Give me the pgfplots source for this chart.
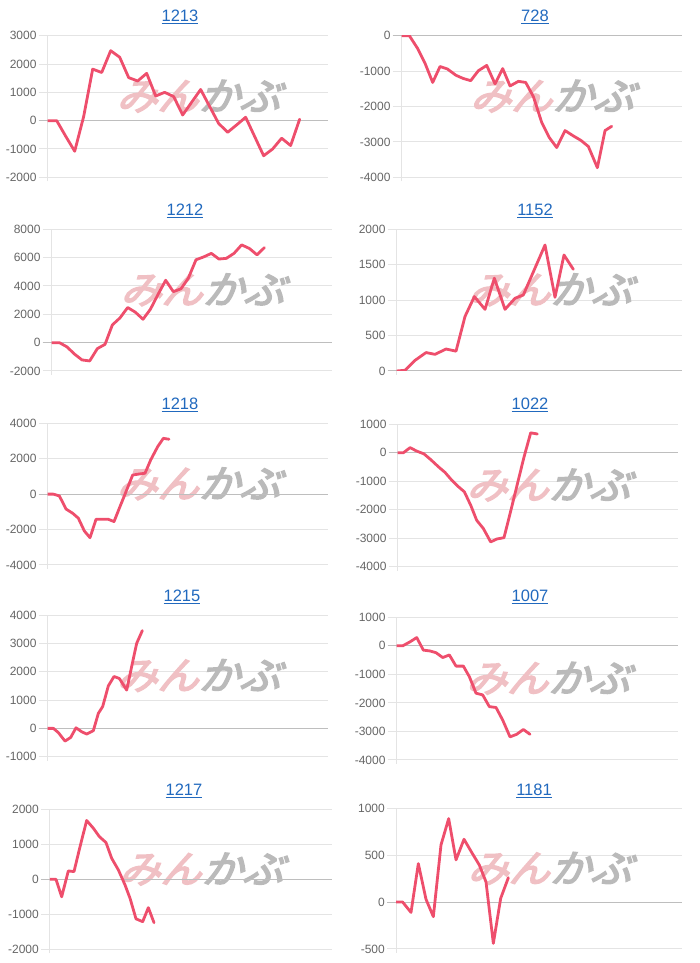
\documentclass[border=0pt]{standalone}
\usepackage{pgfplots}
\pgfplotsset{compat=1.18}
\usepackage{fontspec}
\setmainfont{Liberation Sans}
\newfontfamily\wmfont[FakeBold=4,FakeSlant=0.3]{Noto Sans CJK JP}
\definecolor{linec}{RGB}{238,78,108}
\definecolor{gridc}{RGB}{228,228,228}
\definecolor{zeroc}{RGB}{190,190,190}
\definecolor{labc}{RGB}{102,102,102}
\definecolor{titlec}{RGB}{33,105,190}
\definecolor{wmpink}{RGB}{240,192,196}
\definecolor{wmgray}{RGB}{186,186,186}
\pgfplotsset{mini/.style={
  scale only axis, anchor=south west,
  axis line style={draw=none},
  xtick=\empty, ytick pos=left,
  tick align=outside, major tick length=9pt,
  ymajorgrids, grid style={gridc, line width=1pt},
  ytick style={gridc, line width=1pt},
  yticklabel style={font=\fontsize{12}{14}\selectfont, text=labc, inner sep=0pt, xshift=-2pt},
  /pgf/number format/assume math mode=true,
  /pgf/number format/1000 sep={},
  scaled y ticks=false,
  clip mode=individual
}, ln/.style={color=linec, line width=2.8pt, line join=round, line cap=round, mark=none}}
\newcommand{\wm}{\node[font=\wmfont\fontsize{38}{40}\selectfont, inner sep=0pt, xscale=1.08] at (rel axis cs:0.537,0.573) {\textcolor{wmpink}{みん}\textcolor{wmgray}{かぶ}};}
\newcommand{\zline}{\draw[zeroc,line width=1pt] ({rel axis cs:0,0}|-{axis cs:0,0}) ++(-9pt,0pt) -- ({rel axis cs:1,0}|-{axis cs:0,0});}
\newcommand{\lline}{\draw[gridc,line width=1pt] (rel axis cs:0,0) ++(0pt,-4pt) -- (rel axis cs:0,1);}
\newcommand{\ttl}[3]{\node[anchor=base, font=\fontsize{16.5}{18}\selectfont, text=titlec, inner sep=0pt] at (#1pt,#2pt) {\underline{#3}};}
\begin{document}
\begin{tikzpicture}
\useasboundingbox (0pt,0pt) rectangle (700pt,963pt);
% titles
\ttl{180}{941}{1213}
\ttl{535}{941}{728}
\ttl{185}{747}{1212}
\ttl{535}{747}{1152}
\ttl{180}{553}{1218}
\ttl{530}{553}{1022}
\ttl{182}{361}{1215}
\ttl{530}{361}{1007}
\ttl{184}{167}{1217}
\ttl{534}{167}{1181}

% 1213
\begin{axis}[mini, at={(47.7pt,785.7pt)}, width=280.6pt, height=141.6pt,
  xmin=143, xmax=985, ymin=-2000, ymax=3000, ytick={-2000,-1000,0,1000,2000,3000}]
\wm \lline \zline
\addplot[ln] coordinates {(143,0)(170,0)(197,-550)(224,-1080)(251,150)(278,1820)(305,1700)(332,2470)(359,2240)(386,1520)(413,1400)(440,1670)(467,870)(494,1000)(521,850)(548,200)(575,650)(602,1100)(629,500)(656,-100)(683,-410)(710,-150)(737,120)(764,-560)(791,-1240)(818,-1000)(845,-620)(872,-880)(899,50)};
\end{axis}

% 728
\begin{axis}[mini, at={(401.7pt,785.7pt)}, width=280pt, height=141.6pt,
  xmin=155, xmax=995, ymin=-4000, ymax=0, ytick={-4000,-3000,-2000,-1000,0}]
\wm \lline \zline
\addplot[ln] coordinates {(155,0)(178,0)(202,-350)(225,-780)(248,-1320)(270,-870)(292,-940)(318,-1120)(340,-1210)(362,-1270)(385,-990)(410,-840)(435,-1360)(458,-930)(480,-1420)(505,-1290)(527,-1320)(550,-1720)(575,-2450)(598,-2880)(620,-3160)(645,-2680)(668,-2820)(693,-2960)(715,-3130)(742,-3730)(765,-2680)(785,-2560)};
\end{axis}

% 1212
\begin{axis}[mini, at={(51.7pt,592pt)}, width=280.6pt, height=141.7pt,
  xmin=155, xmax=997, ymin=-2000, ymax=8000, ytick={-2000,0,2000,4000,6000,8000}]
\wm \lline \zline
\addplot[ln] coordinates {(155,0)(178,0)(201,-300)(223,-800)(246,-1220)(269,-1290)(292,-420)(315,-120)(337,1250)(360,1750)(383,2480)(406,2150)(429,1650)(451,2350)(474,3400)(497,4400)(520,3600)(543,3800)(565,4550)(588,5850)(611,6050)(634,6300)(657,5900)(679,5950)(702,6300)(725,6900)(748,6650)(771,6200)(793,6700)};
\end{axis}

% 1152
\begin{axis}[mini, at={(396.7pt,592pt)}, width=285.6pt, height=141.7pt,
  xmin=140, xmax=997, ymin=0, ymax=2000, ytick={0,500,1000,1500,2000}]
\wm \lline \zline
\addplot[ln] coordinates {(140,0)(165,10)(195,150)(228,260)(255,235)(288,310)(318,280)(345,770)(373,1050)(405,870)(433,1310)(465,870)(495,1026)(520,1073)(552,1420)(585,1778)(615,1040)(642,1637)(670,1435)};
\end{axis}

% 1218
\begin{axis}[mini, at={(47.7pt,398pt)}, width=280.6pt, height=141.7pt,
  xmin=143, xmax=985, ymin=-4000, ymax=4000, ytick={-4000,-2000,0,2000,4000}]
\wm \lline \zline
\addplot[ln] coordinates {(143,0)(160,0)(178,-100)(198,-840)(218,-1080)(235,-1360)(253,-2080)(270,-2460)(288,-1420)(308,-1420)(325,-1420)(342,-1550)(360,-700)(378,140)(398,1080)(415,1130)(435,1180)(452,1930)(473,2680)(490,3150)(507,3100)};
\end{axis}

% 1022
\begin{axis}[mini, at={(397.7pt,396.3pt)}, width=280.6pt, height=142.4pt,
  xmin=143, xmax=985, ymin=-4000, ymax=1000, ytick={-4000,-3000,-2000,-1000,0,1000}]
\wm \lline \zline
\addplot[ln] coordinates {(143,0)(160,0)(180,180)(200,60)(222,-40)(243,-250)(265,-490)(285,-690)(305,-960)(325,-1190)(343,-1370)(362,-1840)(380,-2370)(400,-2660)(422,-3130)(440,-3030)(462,-2980)(482,-2050)(502,-1100)(522,-150)(542,700)(562,660)};
\end{axis}

% 1215
\begin{axis}[mini, at={(47.7pt,206.3pt)}, width=280.6pt, height=141.7pt,
  xmin=143, xmax=985, ymin=-1000, ymax=4000, ytick={-1000,0,1000,2000,3000,4000}]
\wm \lline \zline
\addplot[ln] coordinates {(143,0)(160,0)(175,-150)(195,-450)(212,-320)(228,20)(245,-120)(260,-200)(280,-80)(295,530)(308,770)(325,1500)(342,1830)(358,1760)(380,1350)(398,2350)(410,3000)(427,3450)};
\end{axis}

% 1007
\begin{axis}[mini, at={(396.7pt,203pt)}, width=281.6pt, height=142.7pt,
  xmin=140, xmax=985, ymin=-4000, ymax=1000, ytick={-4000,-3000,-2000,-1000,0,1000}]
\wm \lline \zline
\addplot[ln] coordinates {(140,0)(158,0)(180,140)(200,290)(220,-150)(240,-180)(258,-240)(278,-410)(298,-320)(318,-710)(340,-710)(358,-1080)(378,-1660)(398,-1720)(418,-2130)(438,-2160)(458,-2600)(480,-3190)(500,-3100)(520,-2930)(540,-3100)};
\end{axis}

% 1217
\begin{axis}[mini, at={(50pt,13.7pt)}, width=281.7pt, height=140pt,
  xmin=150, xmax=995, ymin=-2000, ymax=2000, ytick={-2000,-1000,0,1000,2000}]
\wm \lline \zline
\addplot[ln] coordinates {(150,0)(168,0)(185,-500)(205,240)(222,220)(240,930)(260,1680)(280,1460)(298,1220)(318,1050)(335,600)(355,270)(375,-160)(390,-540)(408,-1130)(428,-1210)(445,-810)(462,-1240)};
\end{axis}

% 1181
\begin{axis}[mini, at={(396pt,14pt)}, width=285.7pt, height=140.7pt,
  xmin=138, xmax=995, ymin=-500, ymax=1000, ytick={-500,0,500,1000}]
\wm \lline \zline
\addplot[ln] coordinates {(138,0)(158,0)(183,-110)(205,410)(228,30)(250,-155)(273,610)(296,890)(318,450)(342,670)(365,530)(388,395)(408,215)(430,-440)(452,40)(475,260)};
\end{axis}
\end{tikzpicture}
\end{document}
